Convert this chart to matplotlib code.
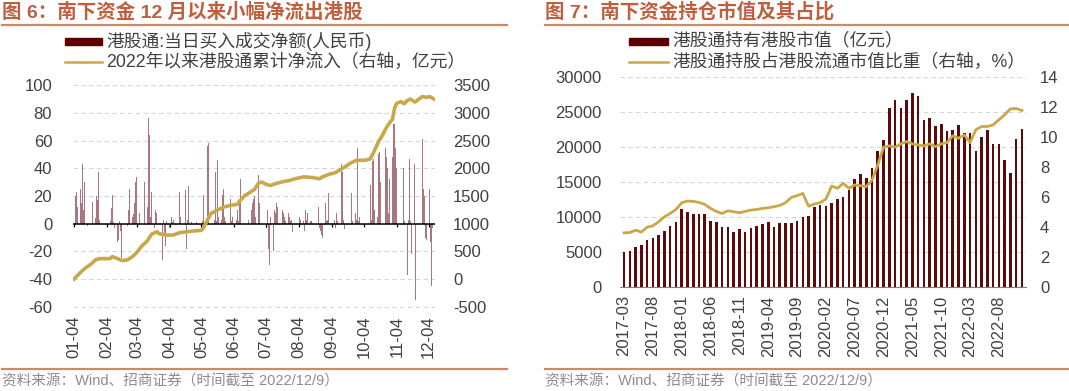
import numpy as np
import pandas as pd
import matplotlib
matplotlib.use('Agg')
import matplotlib.pyplot as plt
import matplotlib.dates as mdates
from matplotlib.patches import Rectangle
from matplotlib.lines import Line2D

plt.rcParams['font.family'] = ['Liberation Sans', 'Noto Sans CJK SC']
plt.rcParams['axes.unicode_minus'] = False

# ---- left chart data: daily southbound net buy (bars) and 2022 cumulative inflow (line) ----
flow_days = [
    '01-04', '01-05', '01-06', '01-07', '01-10', '01-11', '01-12', '01-13', '01-14', '01-17',
    '01-18', '01-19', '01-20', '01-21', '01-24', '01-25', '01-26', '01-27', '01-28',
    '02-07', '02-08', '02-09', '02-10', '02-11', '02-14', '02-15', '02-16', '02-17', '02-18',
    '02-21', '02-22', '02-23', '02-24', '02-25', '02-28',
    '03-01', '03-02', '03-03', '03-04', '03-07', '03-08', '03-09', '03-10', '03-11', '03-14',
    '03-15', '03-16', '03-17', '03-18', '03-21', '03-22', '03-23', '03-24', '03-25', '03-28',
    '03-29', '03-30', '03-31',
    '04-01', '04-04', '04-06', '04-07', '04-08', '04-11', '04-12', '04-13', '04-14', '04-19',
    '04-20', '04-21', '04-22', '04-25', '04-26', '04-27', '04-28', '04-29',
    '05-04', '05-05', '05-06', '05-10', '05-11', '05-12', '05-13', '05-16', '05-17', '05-18',
    '05-19', '05-20', '05-23', '05-24', '05-25', '05-26', '05-27', '05-30', '05-31',
    '06-01', '06-02', '06-06', '06-07', '06-08', '06-09', '06-10', '06-13', '06-14', '06-15',
    '06-16', '06-17', '06-20', '06-21', '06-22', '06-23', '06-24', '06-27', '06-28', '06-29',
    '06-30',
    '07-04', '07-05', '07-06', '07-07', '07-08', '07-11', '07-12', '07-13', '07-14', '07-15',
    '07-18', '07-19', '07-20', '07-21', '07-22', '07-25', '07-26', '07-27', '07-28', '07-29',
    '08-01', '08-02', '08-03', '08-04', '08-05', '08-08', '08-09', '08-10', '08-11', '08-12',
    '08-15', '08-16', '08-17', '08-18', '08-19', '08-22', '08-23', '08-24', '08-25', '08-26',
    '08-29', '08-30', '08-31',
    '09-01', '09-02', '09-05', '09-06', '09-07', '09-08', '09-09', '09-13', '09-14', '09-15',
    '09-16', '09-19', '09-20', '09-21', '09-22', '09-23', '09-26', '09-27', '09-28', '09-29',
    '09-30',
    '10-05', '10-06', '10-07', '10-10', '10-11', '10-12', '10-13', '10-14', '10-17', '10-18',
    '10-19', '10-20', '10-21', '10-24', '10-25', '10-26', '10-27', '10-28', '10-31',
    '11-01', '11-02', '11-03', '11-04', '11-07', '11-08', '11-09', '11-10', '11-11', '11-14',
    '11-15', '11-16', '11-17', '11-18', '11-21', '11-22', '11-23', '11-24', '11-25', '11-28',
    '11-29', '11-30',
    '12-01', '12-02', '12-05', '12-06', '12-07', '12-08', '12-09',
]
flow_vals = [
    -13, 20, 23, 12, 25, 15, 43, 10, 30, -2,
    10, 17, 53, 16, 4, 20, 17, 37, 3,
    2, 11, 21, 1, -3, -13, -12, 2, -5, -25,
    4, 1, -2, 10, 25, 5,
    7, 15, 30, 34, 8, 43, 15, 28, 30, 12,
    76, 64, 5, 23, -3, 10, 8, 37, 2, -26,
    3, -8, -16,
    2, -3, 5, 1, 3, 2, 14, 23, 5, 24,
    -18, 3, 27, 1, 3, 2, 23, 1,
    -3, 2, 21, 56, 58, 5, 30, 3, 37, 2,
    46, 5, 3, 21, 25, 5, 2, -12, 18,
    2, 5, 3, 10, 2, 18, 32, 4, 47, 40,
    15, 3, 10, 15, 18, 20, 5, 35, 15, 20,
    64,
    -3, 10, -18, -30, 5, -20, 10, 8, 15, 12,
    -5, 10, 8, 5, 2, 8, 5, 2, 3, -6,
    28, 3, 8, 5, 3, 2, -5, 10, 3, 8,
    2, 2, -20, 8, 2, 12, -3, -5, -8, -10,
    15, 2, 3,
    22, 3, 25, 3, -3, 8, 2, 43, 37, 3,
    -4, -10, 30, 25, 22, 2, 8, 3, 55, 2,
    5,
    3, 2, 2, 28, 3, 45, 47, 10, 5, 50,
    52, 30, 62, 55, 48, 40, 8, 32, 48,
    72, 72, 55, 40, -5, 3, -10, 40, 2, -37,
    3, 47, 2, -22, 43, -55, 2, -22, 20, 61,
    25, 20,
    -10, -12, 25, -13, -45, -3, 7,
]

cum_days = [
    '01-04', '01-10', '01-14', '01-20', '01-24', '01-28', '02-07', '02-09', '02-14', '02-18',
    '02-23', '02-28', '03-04', '03-09', '03-14', '03-18', '03-23', '03-25', '04-01', '04-07',
    '04-14', '04-21', '04-27', '05-04', '05-06', '05-10', '05-13', '05-19', '05-25', '05-31',
    '06-07', '06-09', '06-14', '06-17', '06-23', '06-27', '06-30', '07-04', '07-08', '07-13',
    '07-19', '07-26', '08-01', '08-08', '08-12', '08-18', '08-23', '08-26', '09-01', '09-07',
    '09-12', '09-16', '09-22', '09-27', '10-05', '10-10', '10-13', '10-18', '10-21', '10-26',
    '10-31', '11-02', '11-04', '11-08', '11-11', '11-14', '11-17', '11-21', '11-24', '11-28',
    '12-02', '12-05', '12-09',
]
cum_vals = [
    0, 120, 190, 270, 345, 370, 370, 405, 370, 335,
    345, 405, 480, 600, 690, 810, 855, 820, 795, 795,
    840, 855, 870, 880, 930, 1080, 1185, 1245, 1300, 1330,
    1350, 1410, 1510, 1545, 1620, 1740, 1750, 1710, 1690, 1725,
    1755, 1780, 1815, 1845, 1840, 1830, 1810, 1845, 1890, 1920,
    1980, 2025, 2100, 2145, 2145, 2170, 2280, 2490, 2580, 2760,
    2890, 3090, 3175, 3205, 3165, 3225, 3250, 3195, 3235, 3295,
    3280, 3295, 3250,
]

# ---- right chart data: monthly holdings (bars, 亿元) and share of HK float (line, %) ----
months = pd.date_range('2017-03-01', periods=70, freq='MS')
hold_vals = [
    5000, 5150, 5730, 5970, 6690, 7020, 7400, 8070, 8650, 9270,
    11130, 10750, 10420, 10370, 10420, 9460, 9220, 8600, 8600, 7880,
    8310, 7790, 8410, 8740, 8980, 9320, 8600, 9170, 9170, 9170,
    9410, 10030, 10180, 11470, 11660, 11560, 12040, 12570, 12800, 13860,
    15430, 16100, 15620, 17010, 19450, 21020, 25510, 26660, 25560, 26760,
    27710, 27230, 23890, 24080, 22930, 23270, 22310, 22460, 23120, 21980,
    22030, 19450, 21360, 22460, 20450, 20450, 18110, 16340, 21120, 22550,
]
share_vals = [
    3.61, 3.63, 3.79, 3.66, 3.99, 4.08, 4.35, 4.68, 4.90, 5.17,
    5.62, 5.73, 5.71, 5.64, 5.51, 5.24, 5.04, 4.90, 5.08, 5.02,
    4.95, 5.04, 5.13, 5.17, 5.24, 5.28, 5.35, 5.44, 5.62, 5.97,
    6.09, 6.24, 5.39, 5.53, 5.62, 5.86, 6.73, 6.58, 6.91, 6.58,
    6.80, 6.75, 6.69, 7.13, 8.14, 9.32, 9.41, 9.32, 9.54, 9.70,
    9.54, 9.47, 9.41, 9.54, 9.36, 9.54, 9.63, 10.08, 9.92, 10.14,
    9.63, 10.48, 10.70, 10.70, 10.81, 11.15, 11.48, 11.88, 11.90, 11.77,
]

W, H = 1069, 391
fig = plt.figure(figsize=(W / 100, H / 100), dpi=100)


def fx(px):
    return px / W


def fy(py):
    return 1 - py / H


red_txt = '#BF5F3E'
rule_col = '#C98A6E'
gold = '#C9A84A'
maroon = '#5C0A0A'
txt_col = '#404040'
grid_kw = dict(color='#D6D6D6', lw=0.8, ls=(0, (4, 3)))
tick_fs = 12

# ================= left chart =================
flow_dates = pd.to_datetime(['2022-' + d for d in flow_days])
cum_dates = pd.to_datetime(['2022-' + d for d in cum_days])

ax1 = fig.add_axes([fx(73), fy(307.5), fx(435 - 73), (307.5 - 84.5) / H])
ax1.bar(flow_dates, flow_vals, width=0.75, color='#A9777F', zorder=2)
ax1.axhline(0, color='black', lw=1.1, zorder=3)
ax1.set_ylim(-60.5, 100.5)
ax1.set_yticks(range(-60, 101, 20))
ax1.set_xlim(pd.Timestamp('2022-01-03'), pd.Timestamp('2022-12-10'))
ax1.yaxis.grid(True, **grid_kw)
ax1.set_axisbelow(True)

month_ticks = pd.date_range('2022-01-04', '2022-12-04', freq=pd.DateOffset(months=1))
ax1.set_xticks(month_ticks)
ax1.xaxis.set_major_formatter(mdates.DateFormatter('%m-%d'))
ax1.vlines(month_ticks, -2.2, 0, color='black', lw=0.9, zorder=3)
ax1.tick_params(axis='x', length=0, pad=6, labelsize=tick_fs, labelcolor=txt_col, rotation=90)
ax1.tick_params(axis='y', length=0, pad=15, labelsize=tick_fs, labelcolor=txt_col)
for s in ax1.spines.values():
    s.set_visible(False)

ax1r = ax1.twinx()
ax1r.plot(cum_dates, cum_vals, color=gold, lw=2.6, zorder=4)
ax1r.set_ylim(-512.5, 3512.5)
ax1r.set_yticks(range(-500, 3501, 500))
ax1r.tick_params(axis='y', length=0, pad=13, labelsize=tick_fs, labelcolor=txt_col)
for s in ax1r.spines.values():
    s.set_visible(False)

# ================= right chart =================
x = np.arange(len(months))
ax2 = fig.add_axes([fx(620), fy(287), fx(1026 - 620), (287 - 77) / H])
ax2.bar(x, hold_vals, width=0.45, color=maroon, zorder=2)
ax2.set_ylim(0, 30000)
ax2.set_yticks(range(0, 30001, 5000))
ax2.set_xlim(-0.7, len(months) - 0.3)
ax2.yaxis.grid(True, **grid_kw)
ax2.set_axisbelow(True)
ax2.set_xticks(x[::5])
ax2.set_xticklabels([m.strftime('%Y-%m') for m in months[::5]])
ax2.tick_params(axis='x', length=0, pad=6, labelsize=tick_fs, labelcolor=txt_col, rotation=90)
ax2.tick_params(axis='y', length=0, pad=13, labelsize=tick_fs, labelcolor=txt_col)
for k, s in ax2.spines.items():
    s.set_visible(k == 'bottom')
ax2.spines['bottom'].set_color('#7F7F7F')
ax2.spines['bottom'].set_linewidth(0.8)

ax2r = ax2.twinx()
ax2r.plot(x, share_vals, color=gold, lw=2.0, zorder=4)
ax2r.set_ylim(0, 14)
ax2r.set_yticks(range(0, 15, 2))
ax2r.tick_params(axis='y', length=0, pad=10, labelsize=tick_fs, labelcolor=txt_col)
for s in ax2r.spines.values():
    s.set_visible(False)

# ================= titles, rules, legends, sources =================
fig.text(fx(2), fy(12), '图 6：南下资金 12 月以来小幅净流出港股', fontsize=14,
         fontweight='bold', color=red_txt, va='center', ha='left')
fig.text(fx(545), fy(12), '图 7：南下资金持仓市值及其占比', fontsize=14,
         fontweight='bold', color=red_txt, va='center', ha='left')
for x0, x1 in [(2, 507), (545, 1069)]:
    for yy in (25, 369):
        fig.add_artist(Line2D([fx(x0), fx(x1)], [fy(yy), fy(yy)], color=rule_col, lw=1.6))

src = '资料来源：Wind、招商证券（时间截至 2022/12/9）'
fig.text(fx(2), fy(381), src, fontsize=10.5, color='#8C8C8C', va='center', ha='left')
fig.text(fx(545), fy(381), src, fontsize=10.5, color='#8C8C8C', va='center', ha='left')

legend_rows = [
    (65, 102, '港股通:当日买入成交净额(人民币)', '2022年以来港股通累计净流入（右轴，亿元）'),
    (629, 668, '港股通持有港股市值（亿元）', '港股通持股占港股流通市值比重（右轴，%）'),
]
for x0, x1, bar_lab, line_lab in legend_rows:
    fig.add_artist(Rectangle((fx(x0), fy(44.5)), fx(x1 - x0), 7 / H,
                             color='#5A0000', transform=fig.transFigure))
    fig.add_artist(Line2D([fx(x0), fx(x1)], [fy(62), fy(62)], color=gold, lw=1.8))
    fig.text(fx(x1 + 4), fy(41), bar_lab, fontsize=12.8, color=txt_col, va='center', ha='left')
    fig.text(fx(x1 + 4), fy(62), line_lab, fontsize=12.8, color=txt_col, va='center', ha='left')

fig.savefig('out.png', dpi=100)
